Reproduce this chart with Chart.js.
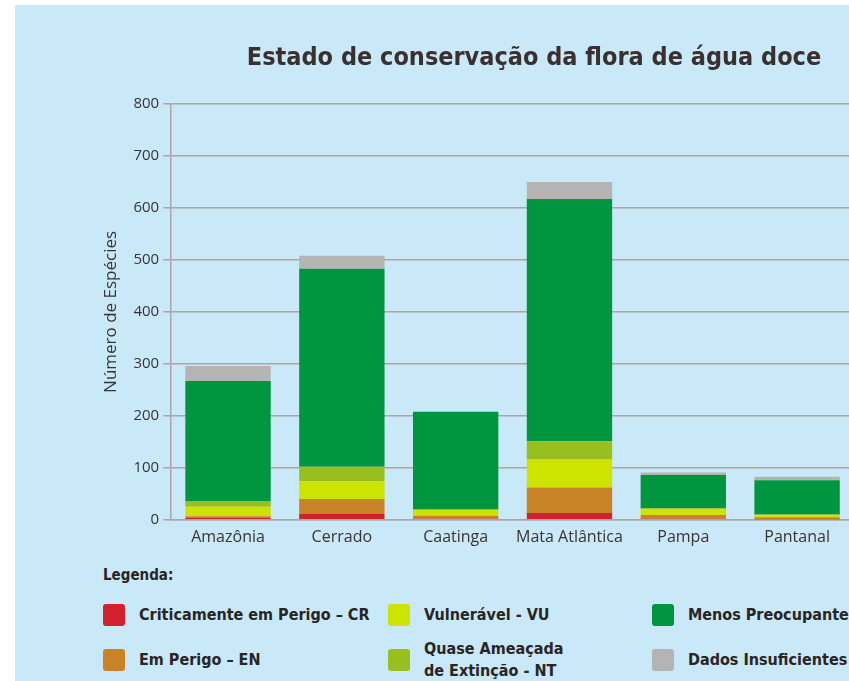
<!DOCTYPE html>
<html>
<head>
<meta charset="utf-8">
<script src="https://cdn.jsdelivr.net/npm/chart.js@4/dist/chart.umd.min.js"></script>
<style>
    html, body { margin: 0; padding: 0; background: #fff; overflow: hidden; width: 849px; height: 681px; }
    #fundo { position: absolute; left: 15px; top: 5px; width: 834px; height: 676px; background: #c9e8f8; }
    #caixa { position: absolute; left: 15px; top: 5px; width: 952px; height: 560px; }
    #titulo-legenda { position: absolute; left: 103px; top: 566px; font: bold 15px "DejaVu Sans Condensed", sans-serif; color: #2a2424; }
    #legenda { position: absolute; left: 103px; top: 604px; display: grid; grid-template-columns: 285px 264px 320px; grid-template-rows: 22px 22px; row-gap: 23px; grid-auto-flow: column; }
    .item { display: flex; align-items: center; font: bold 16px "DejaVu Sans Condensed", sans-serif; color: #2a2424; white-space: pre-line; line-height: 22px; }
    .quadro { width: 22px; height: 22px; border-radius: 3px; margin-right: 14px; flex: none; }
</style>
</head>
<body>
<div id="fundo"></div>
<div id="caixa"><canvas id="grafico" width="952" height="560"></canvas></div>
<div id="titulo-legenda">Legenda:</div>
<div id="legenda"></div>
<script>
// biomas
var categorias = ['Amazônia', 'Cerrado', 'Caatinga', 'Mata Atlântica', 'Pampa', 'Pantanal']

// numero de especies por categoria de ameaça
var criticamente = [4, 11, 2, 13, 2, 1]
var emPerigo = [3, 29, 6, 49, 7, 4]
var vulneravel = [18, 34, 11, 55, 12, 4]
var quaseAmeacada = [10, 28, 1, 34, 1, 1]
var menosPreocupante = [232, 381, 188, 466, 64, 66]
var dadosInsuficientes = [29, 25, 0, 33, 5, 7]

var rotulos = ['Criticamente em Perigo – CR', 'Em Perigo – EN', 'Vulnerável - VU', 'Quase Ameaçada\nde Extinção - NT', 'Menos Preocupante - LC', 'Dados Insuficientes - DD']
var cores = ['#d2202e', '#c98226', '#cde300', '#97bf20', '#00963f', '#b4b4b4']
var ticksY = [0, 100, 200, 300, 400, 500, 600, 700, 800]

var series = [criticamente, emPerigo, vulneravel, quaseAmeacada, menosPreocupante, dadosInsuficientes]

//monta os datasets
var datasets = []
series.forEach(function(val, num){
    datasets.push({
        label: rotulos[num].replace('\n', ' '),
        data: val,
        backgroundColor: cores[num],
        borderWidth: 0
    })
})

//monta a legenda em html
var legenda = document.getElementById('legenda')
rotulos.forEach(function(val, num){
    var item = document.createElement('div')
    item.className = 'item'
    item.innerHTML = '<span class="quadro" style="background:' + cores[num] + '"></span><span></span>'
    item.lastChild.textContent = val
    legenda.appendChild(item)
})

var corGrade = '#aba6a6'
var corTexto = '#3a3434'

new Chart(document.getElementById('grafico').getContext('2d'), {
    type: 'bar',
    data: { labels: categorias, datasets: datasets },
    options: {
        responsive: false,
        animation: false,
        layout: { padding: { left: 86, right: 0, top: 0, bottom: 18 } },
        datasets: { bar: { barPercentage: 0.75, categoryPercentage: 1 } },
        plugins: {
            legend: { display: false },
            tooltip: { enabled: false },
            title: {
                display: true,
                text: 'Estado de conservação da flora de água doce',
                color: '#3a3030',
                font: { family: '"DejaVu Sans Condensed", sans-serif', size: 25, weight: 'bold' },
                padding: { top: 38, bottom: 31 }
            }
        },
        scales: {
            x: {
                stacked: true,
                grid: { display: false },
                border: { display: true, color: corGrade, width: 1.5 },
                ticks: { color: corTexto, padding: 0, font: { family: '"Open Sans", sans-serif', size: 16 } }
            },
            y: {
                stacked: true,
                min: 0,
                max: 800,
                afterBuildTicks: function(eixo){
                    eixo.ticks = ticksY.map(function(v){ return { value: v } })
                },
                grid: { color: corGrade, lineWidth: 1.5, tickLength: 8 },
                border: { display: true, color: corGrade, width: 1.5 },
                ticks: { color: corTexto, padding: 4, font: { family: '"Open Sans", sans-serif', size: 15 } },
                title: {
                    display: true,
                    text: 'Número de Espécies',
                    color: corTexto,
                    padding: { top: 0, bottom: 8 },
                    font: { family: '"Open Sans", sans-serif', size: 17 }
                }
            },
            //eixo vazio a direita, o grafico original continua alem da borda
            margem: {
                type: 'linear',
                position: 'right',
                grid: { display: false },
                border: { display: false },
                ticks: { display: false },
                afterFit: function(eixo){ eixo.width = 113 }
            }
        }
    }
})
</script>
</body>
</html>
